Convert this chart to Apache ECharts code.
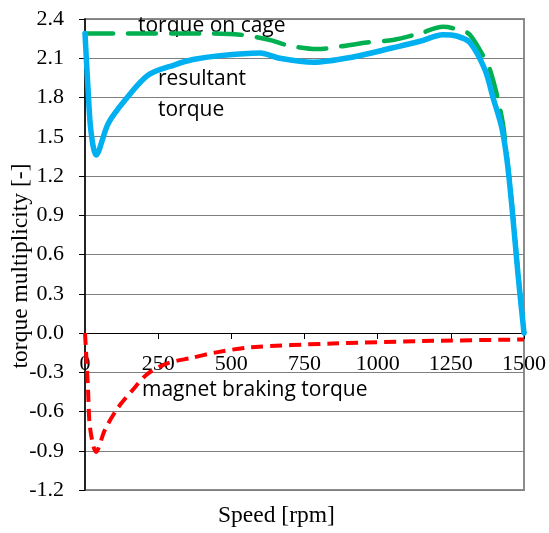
<!DOCTYPE html>
<html>
<head>
<meta charset="utf-8">
<script src="https://cdn.jsdelivr.net/npm/echarts@6/dist/echarts.min.js"></script>
<style>
html,body{margin:0;padding:0;background:#fff;}
#chart{width:549px;height:533px;}
</style>
</head>
<body>
<div id="chart"></div>
<script>
// Speed [rpm] and torque multiplicity [-] values
const cageSpeed   = [0, 100, 200, 300, 400, 530, 632, 690, 793, 871, 963, 1052, 1145, 1223, 1291, 1315, 1350, 1384, 1424, 1442, 1459, 1479, 1500];
const cageTorque  = [2.29, 2.29, 2.29, 2.29, 2.29, 2.28, 2.24, 2.20, 2.17, 2.19, 2.22, 2.24, 2.29, 2.34, 2.31, 2.28, 2.16, 2.01, 1.65, 1.34, 0.97, 0.47, 0.0];

const resSpeed    = [0, 10, 20, 38, 79, 137, 215, 307, 369, 461, 598, 666, 780, 916, 1052, 1145, 1223, 1270, 1315, 1367, 1394, 1424, 1442, 1459, 1479, 1500];
const resTorque   = [2.29, 1.88, 1.55, 1.36, 1.60, 1.78, 1.97, 2.05, 2.09, 2.12, 2.14, 2.10, 2.07, 2.11, 2.18, 2.23, 2.28, 2.27, 2.22, 2.01, 1.80, 1.57, 1.32, 0.96, 0.46, 0.0];

const magSpeed    = [0, 10, 17, 38, 68, 113, 161, 215, 284, 365, 444, 564, 847, 1189, 1500];
const magTorque   = [0.0, -0.41, -0.72, -0.91, -0.74, -0.57, -0.44, -0.31, -0.23, -0.19, -0.15, -0.11, -0.08, -0.06, -0.05];

const xTicks = [0, 250, 500, 750, 1000, 1250, 1500];
const yTicks = [-1.2, -0.9, -0.6, -0.3, 0.0, 0.3, 0.6, 0.9, 1.2, 1.5, 1.8, 2.1, 2.4];

const pair = (xs, ys) => xs.map((x, i) => [x, ys[i]]);

const chart = echarts.init(document.getElementById('chart'), null, {renderer: 'canvas'});
const serif = '"Liberation Serif", "DejaVu Serif", serif';
const sans = '"Open Sans", "Liberation Sans", sans-serif';

chart.setOption({
  animation: false,
  backgroundColor: '#ffffff',
  grid: {left: 85, right: 25, top: 19, bottom: 43, show: true, borderColor: '#8c8c8c', borderWidth: 2, containLabel: false},
  xAxis: {
    type: 'value', min: xTicks[0], max: xTicks[xTicks.length - 1], interval: 250,
    axisLine: {onZero: true, lineStyle: {color: '#000', width: 1}},
    axisTick: {show: true, length: 6, lineStyle: {color: '#000'}},
    axisLabel: {color: '#000', fontFamily: serif, fontSize: 22, margin: -137, formatter: v => String(v)},
    splitLine: {show: false}
  },
  yAxis: {
    type: 'value', min: yTicks[0], max: yTicks[yTicks.length - 1], interval: 0.3,
    axisLine: {show: true, onZero: false, lineStyle: {color: '#000', width: 1.5}},
    axisTick: {show: true, length: 6, lineStyle: {color: '#000'}},
    axisLabel: {color: '#000', fontFamily: serif, fontSize: 22, margin: 21, formatter: v => v.toFixed(1)},
    splitLine: {show: true, lineStyle: {color: '#7f7f7f', width: 1}}
  },
  graphic: [
    {type: 'text', left: 138, top: 16, style: {text: 'torque on cage', font: '21px ' + sans, fill: '#000'}, z: 1},
    {type: 'text', left: 158, top: 69, style: {text: 'resultant', font: '21px ' + sans, fill: '#000'}, z: 1},
    {type: 'text', left: 158, top: 100, style: {text: 'torque', font: '21px ' + sans, fill: '#000'}, z: 1},
    {type: 'text', left: 142, top: 380, style: {text: 'magnet braking torque', font: '21px ' + sans, fill: '#000'}, z: 1},
    {type: 'text', left: 218, top: 504, style: {text: 'Speed [rpm]', font: '23.5px ' + serif, fill: '#000'}},
    {type: 'text', x: 21, y: 266, rotation: Math.PI / 2, style: {text: 'torque multiplicity [-]', font: '23.5px ' + serif, fill: '#000', align: 'center', verticalAlign: 'middle'}}
  ],
  series: [
    {type: 'line', data: pair(cageSpeed, cageTorque), smooth: 0.3, symbol: 'none', z: 3,
     lineStyle: {color: '#00b050', width: 4.5, type: [28, 15], cap: 'round'}},
    {type: 'line', data: pair(resSpeed, resTorque), smooth: 0.3, symbol: 'none', z: 4,
     lineStyle: {color: '#00b0f0', width: 5.5, cap: 'round', join: 'round'}},
    {type: 'line', data: pair(magSpeed, magTorque), smooth: 0.3, symbol: 'none', z: 5,
     lineStyle: {color: '#ff0000', width: 4, type: [12, 7]}}
  ]
});
</script>
</body>
</html>
